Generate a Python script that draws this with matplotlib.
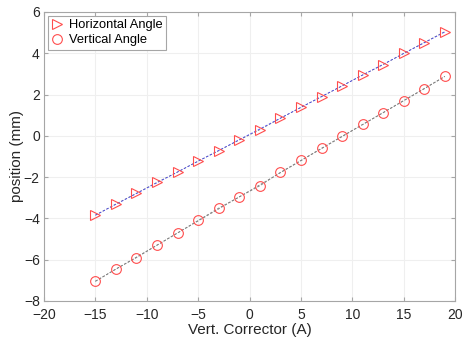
import numpy as np
import matplotlib
matplotlib.use("Agg")
import matplotlib.pyplot as plt

plt.rcParams["font.family"] = ["Liberation Sans", "DejaVu Sans"]

current = [-15, -13, -11, -9, -7, -5, -3, -1, 1, 3, 5, 7, 9, 11, 13, 15, 17, 19]
horiz = [-3.85, -3.3, -2.78, -2.25, -1.75, -1.22, -0.72, -0.2, 0.3, 0.85,
         1.38, 1.9, 2.42, 2.95, 3.45, 4.0, 4.52, 5.05]
vert = [-7.05, -6.45, -5.9, -5.3, -4.7, -4.1, -3.5, -2.96, -2.42, -1.77,
        -1.19, -0.6, -0.02, 0.55, 1.12, 1.7, 2.28, 2.88]

x = np.array(current)
h_fit = np.polyval(np.polyfit(x, horiz, 1), x)
v_fit = np.polyval(np.polyfit(x, vert, 1), x)

fig = plt.figure(figsize=(4.63, 3.38), dpi=100)
ax = fig.add_axes([0.095, 0.1095, 0.888, 0.855])

ax.plot(x, horiz, color="gray", lw=0.6, dashes=(3, 2))
ax.plot(x, h_fit, color="#3333ff", lw=0.6, alpha=0.8, dashes=(3, 2))
ax.plot(x, vert, color="gray", lw=0.6, dashes=(3, 2))
ax.plot(x, v_fit, color="gray", lw=0.6, dashes=(3, 2))
ax.plot(x, horiz, ls="none", marker=">", ms=7, mfc="none", mec="#ff4d4d",
        mew=0.8, label="Horizontal Angle")
ax.plot(x, vert, ls="none", marker="o", ms=7, mfc="none", mec="#ff4d4d",
        mew=0.8, label="Vertical Angle")

ax.set_xlim(-20, 20)
ax.set_ylim(-8, 6)
ax.set_xticks(range(-20, 21, 5))
ax.set_yticks(range(-8, 7, 2))
ax.grid(True, color="#efefef", lw=0.8)
ax.set_axisbelow(True)
for s in ax.spines.values():
    s.set_color("#a6a6a6")
    s.set_linewidth(0.8)
ax.tick_params(direction="in", length=3, color="#a6a6a6", labelsize=10,
               labelcolor="#262626", top=True, right=True, pad=3)
ax.tick_params(axis="x", pad=5)
ax.set_xlabel("Vert. Corrector (A)", fontsize=11, color="#262626", labelpad=1)
ax.set_ylabel("position (mm)", fontsize=11, color="#262626", labelpad=0)

leg = ax.legend(loc="upper left", fontsize=9.3, frameon=True, fancybox=False,
                edgecolor="#a6a6a6", borderaxespad=0.3, handlelength=0.9,
                handletextpad=0.5, borderpad=0.25, labelspacing=0.25,
                framealpha=1)
leg.get_frame().set_linewidth(0.8)

fig.savefig("out.png", dpi=100)
